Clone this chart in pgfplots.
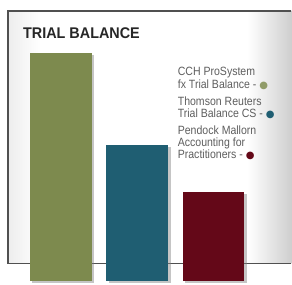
\documentclass[border=0pt]{standalone}
\usepackage{pgfplots}
\pgfplotsset{compat=1.18}
\usepackage{fontspec}
\setmainfont{Liberation Sans}
\newfontfamily\condfont[FakeStretch=0.88]{Liberation Sans}
\newfontfamily\titlefont[FakeStretch=0.93]{Liberation Sans}
\newfontfamily\dejavu{DejaVu Sans}
\usetikzlibrary{shadows}
\definecolor{cOlive}{HTML}{7D8A4E}
\definecolor{cTeal}{HTML}{1F5E72}
\definecolor{cMaroon}{HTML}{640818}
\definecolor{legtext}{HTML}{5E5E5E}
\definecolor{framec}{HTML}{505050}
\begin{document}
\begin{tikzpicture}
\begin{axis}[
  scale only axis, width=292pt, height=285pt,
  xmin=0, xmax=292, ymin=-3, ymax=282,
  axis lines=none, ticks=none,
  ybar, bar width=62,
  clip=false,
]
% background of the frame
\fill[white] (axis cs:0,-3) rectangle (axis cs:292,282);
\fill[left color=gray!14, right color=white] (axis cs:8,18) rectangle (axis cs:40,271);
\fill[left color=white, right color=gray!38] (axis cs:248,18) rectangle (axis cs:292,271);
\draw[framec, line width=1.2pt] (axis cs:292,271) -- (axis cs:8,271) -- (axis cs:8,18) -- (axis cs:292,18);
% bars
\addplot[bar shift=0pt, fill=cOlive, draw=none, drop shadow={shadow xshift=2.5pt, shadow yshift=-2pt, opacity=0.45}] coordinates {(61,229)};
\addplot[bar shift=0pt, fill=cTeal, draw=none, drop shadow={shadow xshift=2.5pt, shadow yshift=-2pt, opacity=0.45}] coordinates {(137.5,137)};
\addplot[bar shift=0pt, fill=cMaroon, draw=none, drop shadow={shadow xshift=2.5pt, shadow yshift=-2pt, opacity=0.45}] coordinates {(214,90)};
% title
\node[anchor=base west, inner sep=0pt, text=black!85] at (axis cs:23,243) {\titlefont\bfseries\fontsize{15.5}{18}\selectfont TRIAL BALANCE};
% legend
\begin{scope}[every node/.style={anchor=base west, inner sep=0pt, text=legtext, font=\condfont\fontsize{12}{14}\selectfont}]
\node at (axis cs:178,206) {CCH ProSystem};
\node at (axis cs:178,193) {fx Trial Balance - {\dejavu\fontsize{10}{12}\selectfont\textcolor{cOlive!85}{●}}};
\node at (axis cs:178,176) {Thomson Reuters};
\node at (axis cs:178,164) {Trial Balance CS - {\dejavu\fontsize{10}{12}\selectfont\textcolor{cTeal}{●}}};
\node at (axis cs:178,147) {Pendock Mallorn};
\node at (axis cs:178,135) {Accounting for};
\node at (axis cs:178,123) {Practitioners - {\dejavu\fontsize{10}{12}\selectfont\textcolor{cMaroon}{●}}};
\end{scope}
\end{axis}
\end{tikzpicture}
\end{document}
